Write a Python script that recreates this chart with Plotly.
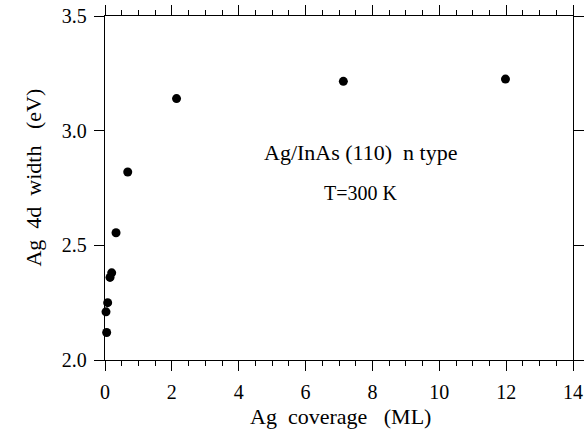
import plotly.graph_objects as go

coverage_ml = [0.05, 0.03, 0.08, 0.15, 0.20, 0.33, 0.68, 2.14, 7.13, 11.98]
width_ev = [2.12, 2.21, 2.25, 2.36, 2.38, 2.555, 2.82, 3.14, 3.215, 3.225]

x_ticks = [0, 2, 4, 6, 8, 10, 12, 14]
y_ticks = [2.0, 2.5, 3.0, 3.5]
y_ticklabels = ["2.0", "2.5", "3.0", "3.5"]

FONT = "Liberation Serif"

fig = go.Figure()
fig.add_trace(go.Scatter(
    x=coverage_ml, y=width_ev, mode="markers",
    marker=dict(color="black", size=9, line=dict(width=0)),
    cliponaxis=False, showlegend=False,
))

def axis_common():
    return dict(
        showline=True, linecolor="black", linewidth=1.3, mirror="ticks",
        ticks="outside", tickcolor="black", tickwidth=1.3, ticklen=10,
        showgrid=False, zeroline=False, automargin=False,
        tickfont=dict(family=FONT, size=20, color="black"),
    )

fig.update_layout(
    template="none",
    width=586, height=429,
    margin=dict(l=105, r=13, t=16, b=69, pad=0),
    plot_bgcolor="white", paper_bgcolor="white",
    font=dict(family=FONT, color="black"),
    xaxis=dict(range=[0, 14], tickmode="array", tickvals=x_ticks, ticklabelstandoff=4,
               minor=dict(tickmode="linear", dtick=0.5, tick0=0, ticks="outside", ticklen=5,
                          tickcolor="black", tickwidth=1, showgrid=False),
               **axis_common()),
    yaxis=dict(range=[2.0, 3.5], tickmode="array", tickvals=y_ticks, ticktext=y_ticklabels,
               ticklabelstandoff=3, **axis_common()),
    annotations=[
        dict(x=7.66, y=2.903, xref="x", yref="y", text="Ag/InAs (110)&nbsp;&nbsp;n type",
             xanchor="center", yanchor="middle",
             showarrow=False, font=dict(family=FONT, size=22, color="black")),
        dict(x=7.63, y=2.728, xref="x", yref="y", text="T=300 K",
             xanchor="center", yanchor="middle",
             showarrow=False, font=dict(family=FONT, size=20, color="black")),
        dict(x=0.504, y=-0.165, xref="paper", yref="paper",
             text="Ag&nbsp;&nbsp;coverage&nbsp;&nbsp;&nbsp;(ML)",
             xanchor="center", yanchor="middle",
             showarrow=False, font=dict(family=FONT, size=22, color="black")),
        dict(x=-0.152, y=0.53, xref="paper", yref="paper",
             text="Ag&nbsp;&nbsp;4d&nbsp;&nbsp;width&nbsp;&nbsp;&nbsp;(eV)", textangle=-90,
             xanchor="center", yanchor="middle",
             showarrow=False, font=dict(family=FONT, size=22, color="black")),
    ],
)

fig.write_html("out.html")
